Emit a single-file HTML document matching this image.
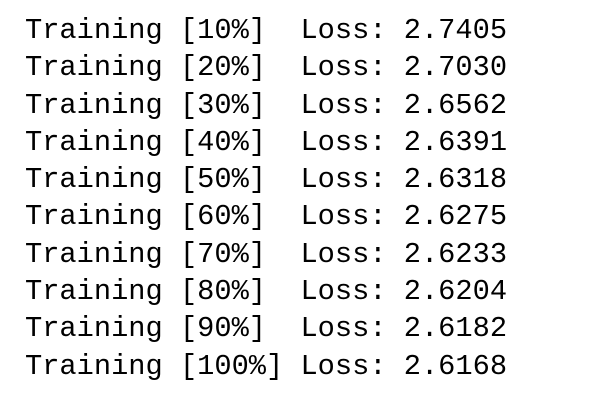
<!DOCTYPE html>
<html><head><meta charset="utf-8"><style>
html,body{margin:0;padding:0;background:#fff;width:596px;height:405px;overflow:hidden}
#log{position:absolute;left:25px;top:12px;font-family:"Liberation Mono",monospace;font-size:28.7px;line-height:37.3px;color:#000;white-space:pre}
</style></head><body>
<div id="log"></div>
<script>
const percents = ["10%","20%","30%","40%","50%","60%","70%","80%","90%","100%"];
const losses = ["2.7405","2.7030","2.6562","2.6391","2.6318","2.6275","2.6233","2.6204","2.6182","2.6168"];
const log = document.getElementById('log');
percents.forEach((p, i) => {
  const d = document.createElement('div');
  
  
  const tag = ('[' + p + ']').padEnd(6, ' ');
  d.textContent = 'Training ' + tag + ' Loss: ' + losses[i];
  log.appendChild(d);
});
</script>
</body></html>
